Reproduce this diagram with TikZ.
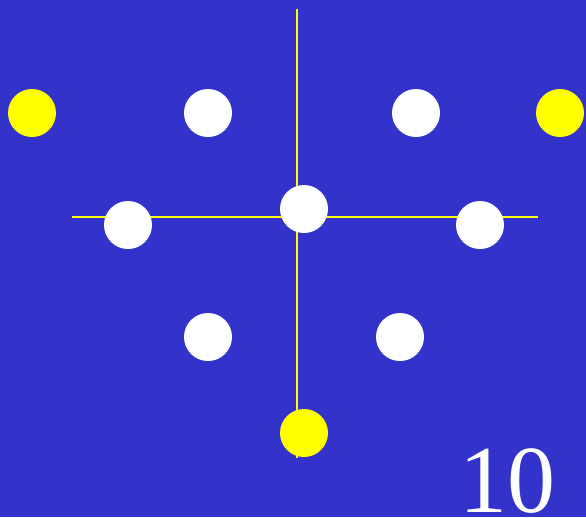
\documentclass[tikz,border=0pt]{standalone}
\usepackage{fontspec}
\setmainfont{Liberation Serif}
\definecolor{bg}{HTML}{3333CC}
\definecolor{yel}{HTML}{FFFF00}
\begin{document}
\begin{tikzpicture}[x=1pt,y=-1pt,
  dot/.style={circle,minimum size=48pt,inner sep=0pt,fill=white},
  ydot/.style={dot,fill=yel},
  axis/.style={draw=yel,line width=1.6pt}]
\fill[bg] (0,0) rectangle (586,517);
\useasboundingbox (0,0) rectangle (586,517);
\coordinate (vt) at (297,9);
\coordinate (vb) at (297,458);
\coordinate (hl) at (72,217);
\coordinate (hr) at (538,217);
\draw[axis] (vt) -- (vb);
\draw[axis] (hl) -- (hr);
\node[ydot] (y1) at (32,113) {};
\node[dot] (w1) at (208,113) {};
\node[dot] (w2) at (416,113) {};
\node[ydot] (y2) at (560,113) {};
\node[dot] (w3) at (128,225) {};
\node[dot] (w4) at (304,209) {};
\node[dot] (w5) at (480,225) {};
\node[dot] (w6) at (208,337) {};
\node[dot] (w7) at (400,337) {};
\node[ydot] (y3) at (304,433) {};
\node[text=white,font=\fontsize{96}{96}\selectfont,anchor=base west,inner sep=0pt,text depth=0pt] (num) at (459,512) {10};
\end{tikzpicture}
\end{document}
